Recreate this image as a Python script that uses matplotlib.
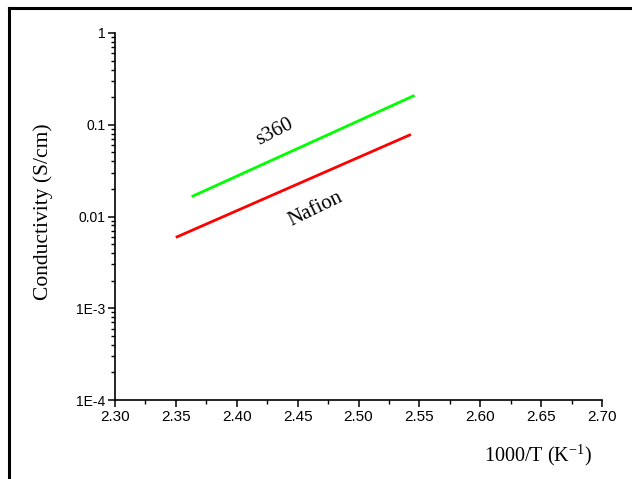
import numpy as np
from matplotlib import pyplot as plt
from matplotlib.ticker import FixedLocator, FixedFormatter, MultipleLocator, LogLocator, NullFormatter
from matplotlib.lines import Line2D

plt.rcParams["mathtext.fontset"] = "custom"
plt.rcParams["mathtext.rm"] = "Liberation Serif"

# data (1000/T, conductivity)
s360_x = [2.364, 2.545]
s360_y = [0.0167, 0.206]
nafion_x = [2.351, 2.542]
nafion_y = [0.0060, 0.0773]

y_ticks = [1e-4, 1e-3, 1e-2, 1e-1, 1]
y_labels = ["1E-4", "1E-3", "0.01", "0.1", "1"]
x_ticks = [2.30, 2.35, 2.40, 2.45, 2.50, 2.55, 2.60, 2.65, 2.70]

fig = plt.figure(figsize=(6.32, 4.79), dpi=100)
ax = fig.add_axes([115/632, 1 - 400/479, (602-115)/632, (400-33)/479])

ax.plot(s360_x, s360_y, c="#00ff00", lw=2)
ax.plot(nafion_x, nafion_y, c="#ff0000", lw=2)

ax.set_yscale("log")
ax.set_xlim(2.30, 2.70)
ax.set_ylim(1e-4, 1)
ax.yaxis.set_major_locator(FixedLocator(y_ticks))
ax.yaxis.set_major_formatter(FixedFormatter(y_labels))
ax.yaxis.set_minor_locator(LogLocator(base=10, subs=np.arange(2, 10)))
ax.yaxis.set_minor_formatter(NullFormatter())
ax.xaxis.set_major_locator(FixedLocator(x_ticks))
ax.set_xticklabels(["%.2f" % v for v in x_ticks])
ax.xaxis.set_minor_locator(MultipleLocator(0.025))

for side in ["top", "right"]:
    ax.spines[side].set_visible(False)
for side in ["left", "bottom"]:
    ax.spines[side].set_linewidth(1.2)

ax.tick_params(which="major", direction="out", length=5, width=1.1,
               pad=2, colors="black")
ax.tick_params(axis="x", labelsize=11)
ax.tick_params(axis="y", labelsize=10)
ax.tick_params(which="minor", direction="out", length=3, width=1.0)
for lab in ax.get_xticklabels() + ax.get_yticklabels():
    lab.set_fontfamily("Liberation Sans")

ax.text(2.4315, 0.0825, "s360", rotation=27, fontsize=15, family="Liberation Serif",
        ha="center", va="center")
ax.text(2.465, 0.0121, "Nafion", rotation=26, fontsize=15, family="Liberation Serif",
        ha="center", va="center")

fig.text(43/632, 1 - 212/479, "Conductivity (S/cm)", rotation=90, fontsize=15.5,
         family="Liberation Serif", ha="center", va="center")
fig.text(538/632, 1 - 455/479, r"1000/T (K$^{\mathregular{-1}}$)", fontsize=14.5,
         family="Liberation Serif", ha="center", va="center")

# frame lines at top and left of the figure
fig.add_artist(Line2D([9/632, 9/632], [0, 1 - 8/479], color="black", lw=2.2,
                      transform=fig.transFigure))
fig.add_artist(Line2D([9/632, 1], [1 - 8/479, 1 - 8/479], color="black", lw=2.2,
                      transform=fig.transFigure))

fig.savefig("out.png", dpi=100)
